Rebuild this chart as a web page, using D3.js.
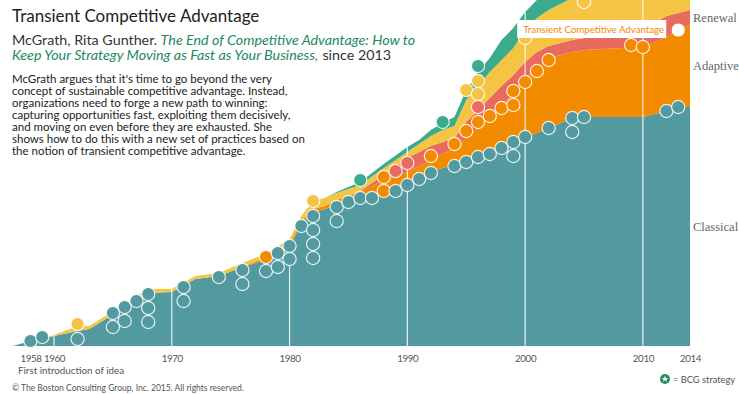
<!DOCTYPE html>
<html><head><meta charset="utf-8">
<script src="https://cdn.jsdelivr.net/npm/d3@7/dist/d3.min.js"></script>
<style>body{margin:0;background:#fff}svg{display:block}</style>
</head><body>
<svg id="chart" width="739" height="394"></svg>
<script>
// ---- data ----
const years     = [1956.5,1958,1960,1962,1963,1968,1970,1972,1974,1976,1978,1980,1981,1982,1983,1984,1986,1988,1990,1991,1992,1993,1994,1995,1996,1997,1998,1999,2000,2001,2002,2004,2005,2010,2012,2013,2014];
const classical = [0,2.5,5,7.5,8.5,26.5,27,33.5,35,39.5,43,49.5,61,67,68.5,70.5,73.5,77,81.5,84,87,89,90.5,92.5,94.5,96.5,99,101,104,106.5,109,114,114.5,114.5,117.5,119.5,119.5];
const adaptive  = [0,0,0,0,0,0,0,0,0,0,1.5,1.5,1.5,1.5,1.5,2.5,3.5,6,5.5,6,6,7,8.5,11.5,14.5,17.5,21,25.5,29,32.5,35,33,33.5,35,37,39,41];
const renewal   = [0,0,0,0,0,0,0,0,0,0,0,0,0,0,0,0,0.5,2.5,7,7,7,6,5,8,9,10,10,9,9,8,6,6,6,8.5,10.5,8,7.5];
const visionary = [0,0,0.5,2.5,1.5,2,1.5,1.5,1.5,2,1.5,2.5,2.5,4,4,3.5,3,3.5,3,4,5,6,6,11,12,13,13,13.5,16,17,18,21,21.5,20,15,14,14];
const shaping   = [0,0,0,0,0,0,0,0,0,0,0,0,0,0,0,0.5,1.5,2,2.5,2,3,3.5,4.5,5,7,7,10,10,9,9,10,11.5,12.5,15,16.5,17,17.5];

const layerKeys   = ["classical","adaptive","renewal","visionary","shaping"];
const layerNames  = ["Classical","Adaptive","Renewal","Visionary","Shaping"];
const layerColors = ["#529aa0","#f28b00","#e96a5e","#f6c443","#3aab8c"];
const labelledLayers = ["classical","adaptive","renewal"];

// strategy concepts: year, stack level, layer
const conceptYears  = [1958,1959,1962,1962,1965,1965,1966,1966,1967,1968,1968,1968,1971,1971,1974,1976,1976,1978,1978,1979,1979,1980,1980,1981,1982,1982,1982,1982,1982,1984,1984,1985,1986,1986,1987,1988,1988,1989,1989,1990,1990,1991,1992,1992,1993,1994,1994,1995,1995,1995,1996,1996,1996,1996,1996,1996,1997,1997,1998,1998,1999,1999,1999,1999,2000,2000,2000,2001,2002,2002,2004,2004,2005,2005,2009,2010,2012,2013];
const conceptLevels = [2.5,4.5,11,3.5,16.5,9.5,19.5,12.5,22.5,26,19,12,29.5,22.5,34.5,38,31,44.5,37.5,46.5,39.5,50,43.5,60,72.5,65,58,51,44,69.5,62.5,72,83,74,74,84.5,77.5,87.5,77.5,91.5,80.5,83.5,95,86.5,112,101,90,128,107.5,92,140,132.5,126,119.5,112,94.5,115,96,119,99,127.5,120.5,102,95,154,132,104.5,137.5,143,109,114,107,172,114.5,150.5,149.5,117.5,119.5];
const conceptLayers = ["classical","classical","visionary","classical","classical","classical","classical","classical","classical","classical","classical","classical","classical","classical","classical","classical","classical","adaptive","classical","classical","classical","classical","classical","classical","visionary","classical","classical","classical","classical","classical","classical","classical","shaping","classical","classical","adaptive","adaptive","renewal","classical","renewal","classical","classical","adaptive","classical","shaping","adaptive","classical","visionary","adaptive","classical","shaping","visionary","visionary","renewal","adaptive","classical","adaptive","classical","adaptive","classical","adaptive","adaptive","classical","classical","visionary","adaptive","classical","adaptive","adaptive","classical","classical","classical","visionary","classical","adaptive","adaptive","classical","classical"];

const highlightYear = 2013, highlightLevel = 158, highlightLabel = "Transient Competitive Advantage";
const tickYears = [1958,1960,1970,1980,1990,2000,2010,2014];
const decadeYears = [1960,1970,1980,1990,2000,2010];

const titleText = "Transient Competitive Advantage";
const subtitleLine1 = ["McGrath, Rita Gunther.", "\u00a0The End of Competitive Advantage: How to"];
const subtitleLine2 = ["Keep Your Strategy Moving as Fast as Your Business,", "\u00a0since 2013"];
const bodyLines = [
 "McGrath argues that it's time to go beyond the very",
 "concept of sustainable competitive advantage. Instead,",
 "organizations need to forge a new path to winning:",
 "capturing opportunities fast, exploiting them decisively,",
 "and moving on even before they are exhausted. She",
 "shows how to do this with a new set of practices based on",
 "the notion of transient competitive advantage."
];

// ---- drawing ----
const svg = d3.select("#chart");
const x = d3.scaleLinear().domain([1960, 2014]).range([54, 690]);
const y = d3.scaleLinear().domain([0, 173]).range([346, 0]);
const sans = "Lato";

const table = years.map((yr, i) => ({year: yr, classical: classical[i], adaptive: adaptive[i], renewal: renewal[i], visionary: visionary[i], shaping: shaping[i]}));
const series = d3.stack().keys(layerKeys)(table);
const area = d3.area().x(d => x(d.data.year)).y0(d => y(d[0])).y1(d => y(d[1]));

svg.append("g").selectAll("path").data(series).join("path")
  .attr("d", area).attr("fill", (d, i) => layerColors[i]);

// decade lines
const stackTop = yr => series[series.length - 1].find(p => p.data.year === yr)[1];
svg.append("g").selectAll("line").data(decadeYears).join("line")
  .attr("x1", d => x(d)).attr("x2", d => x(d))
  .attr("y1", y(0)).attr("y2", d => y(stackTop(d)))
  .attr("stroke", "#fff").attr("stroke-opacity", 0.85).attr("stroke-width", 1.2);

// concept circles
const concepts = conceptYears.map((yr, i) => ({year: yr, level: conceptLevels[i], layer: conceptLayers[i]}));
svg.append("g").selectAll("circle").data(concepts).join("circle")
  .attr("cx", d => x(d.year)).attr("cy", d => y(d.level)).attr("r", 6.6)
  .attr("fill", d => layerColors[layerKeys.indexOf(d.layer)])
  .attr("stroke", "#fff").attr("stroke-width", 1.2).attr("stroke-opacity", 0.85);

// highlight
const hx = x(highlightYear), hy = y(highlightLevel);
const lab = svg.append("g");
lab.append("rect").attr("x", hx - 161).attr("y", hy - 10).attr("width", 149).attr("height", 18).attr("fill", "#fff");
lab.append("text").attr("x", hx - 155).attr("y", hy + 3.3).attr("fill", "#f28b00")
  .style("font-family", sans).style("font-size", "9.7px").text(highlightLabel);
svg.append("circle").attr("cx", hx).attr("cy", hy).attr("r", 6.6).attr("fill", "#fff");

// axis
const ax = svg.append("g").attr("transform", `translate(0,${y(0)})`)
  .call(d3.axisBottom(x).tickValues(tickYears).tickFormat(d3.format("d")).tickSize(0).tickPadding(9));
ax.select(".domain").remove();
ax.selectAll("text").attr("fill", "#555").style("font-family", sans).style("font-size", "9.8px")
  .style("letter-spacing", "-0.4px");

// right labels
const labelled = series.filter(s => labelledLayers.includes(s.key));
svg.append("g").selectAll("text").data(labelled).join("text")
  .attr("x", 693).attr("y", s => { const d = s[s.length - 1]; return y((d[0] + d[1]) / 2); }).attr("dy", "0.35em")
  .attr("fill", "#666").style("font-family", "Liberation Serif, serif").style("font-size", "12.5px")
  .text(s => layerNames[layerKeys.indexOf(s.key)]);

// titles
svg.append("text").attr("x", 12).attr("y", 22).attr("fill", "#222")
  .style("font-family", sans).style("font-size", "17px").text(titleText);
function twoPart(parts, yPos, firstItalic) {
  const a = svg.append("text").attr("x", 12).attr("y", yPos).style("font-family", sans).style("font-size", "14.3px")
    .attr("fill", firstItalic ? "#1d8a5c" : "#333").style("font-style", firstItalic ? "italic" : "normal").text(parts[0]);
  const w = a.node().getComputedTextLength();
  svg.append("text").attr("x", 12.5 + w).attr("y", yPos).style("font-family", sans).style("font-size", "14.3px")
    .attr("fill", firstItalic ? "#333" : "#1d8a5c").style("font-style", firstItalic ? "normal" : "italic").text(parts[1]);
}
twoPart(subtitleLine1, 44.5, false);
twoPart(subtitleLine2, 59.5, true);

svg.append("g").selectAll("text").data(bodyLines).join("text")
  .attr("x", 12).attr("y", (d, i) => 82.5 + i * 12).attr("fill", "#222")
  .style("font-family", sans).style("font-size", "11.5px").text(d => d);

svg.append("text").attr("x", 18).attr("y", 373.5).attr("fill", "#555")
  .style("font-family", sans).style("font-size", "9.8px").text("First introduction of idea");
svg.append("text").attr("x", 12).attr("y", 391).attr("fill", "#555")
  .style("font-family", sans).style("font-size", "8.5px").text("© The Boston Consulting Group, Inc. 2015. All rights reserved.");

// legend
const lg = svg.append("g").attr("transform", "translate(665,379)");
lg.append("circle").attr("r", 5).attr("fill", "#1f8f5c");
const star = d3.symbol().type(d3.symbolStar).size(14);
lg.append("path").attr("d", star()).attr("fill", "#fff");
svg.append("text").attr("x", 673).attr("y", 382.5).attr("fill", "#555")
  .style("font-family", sans).style("font-size", "9.3px").text("= BCG strategy");
</script>
</body></html>
